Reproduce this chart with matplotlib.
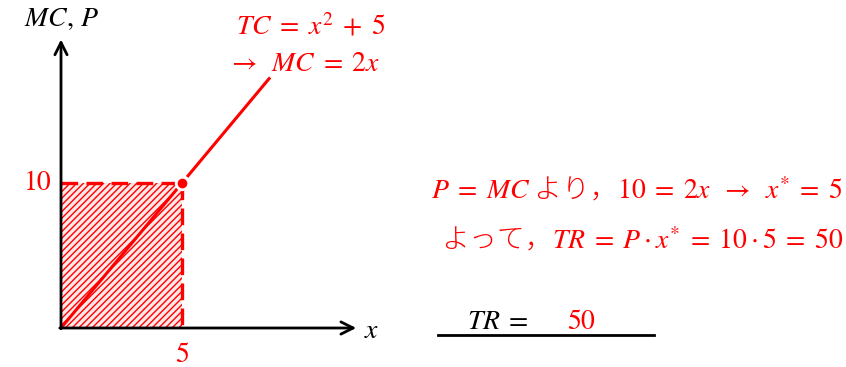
import matplotlib
matplotlib.use('Agg')
import matplotlib.pyplot as plt  # noqa: E402
from matplotlib.patches import Rectangle  # noqa: E402

plt.rcParams['font.family'] = ['Noto Sans CJK JP', 'DejaVu Sans']
plt.rcParams['mathtext.fontset'] = 'stix'
plt.rcParams['hatch.linewidth'] = 1.0

# Datos del gráfico
x_star = 5
price = 10
mc_x = [0, x_star]
mc_y = [0, price]
mc_ext_x = [5.25, 8.6]
mc_ext_y = [10.5, 17.2]
x_axis_end = 12.2
y_axis_end = 19.9
x_ticks = [5]
y_ticks = [10]

RED = '#ff0000'

fig = plt.figure(figsize=(8.46, 3.67), dpi=100)
ax = fig.add_axes([0, 0, 1, 1])
ax.set_xlim(-61 / 24.2, (846 - 61) / 24.2)
ax.set_ylim(-(367 - 328) / 14.5, 328 / 14.5)
ax.axis('off')

# Área TR sombreada
ax.add_patch(Rectangle((0, 0), x_star, price, facecolor='#ffe8e8',
                       edgecolor=RED, hatch='/////', linewidth=0, zorder=1))

# Líneas punteadas
ax.plot([0, x_star], [price, price], color=RED, lw=2.4, ls=(0, (5, 2.5)), zorder=3)
ax.plot([x_star, x_star], [price, 0], color=RED, lw=2.4, ls=(0, (5, 2.5)), zorder=3)

# Curva MC
ax.plot(mc_x, mc_y, color=RED, lw=2.2, zorder=4)
ax.plot(mc_ext_x, mc_ext_y, color=RED, lw=2.2, zorder=4)
ax.plot([x_star], [price], 'o', color=RED, ms=9, mec='white', mew=2, zorder=5)

# Ejes
ax.annotate('', xy=(x_axis_end, 0), xytext=(-0.05, 0),
            arrowprops=dict(arrowstyle='->', lw=2, color='black',
                            mutation_scale=22, shrinkA=0, shrinkB=0), zorder=6)
ax.annotate('', xy=(0, y_axis_end), xytext=(0, -0.05),
            arrowprops=dict(arrowstyle='->', lw=2, color='black',
                            mutation_scale=22, shrinkA=0, shrinkB=0), zorder=6)

fs = 20
ax.text(0.04, 21.4, r'$MC,\,P$', ha='center', va='center', fontsize=fs)
ax.text(12.85, -0.14, r'$x$', ha='center', va='center', fontsize=fs)
for t in y_ticks:
    ax.text(-0.37, t, f'{t}', ha='right', va='center', fontsize=fs,
            color=RED, family='STIXGeneral')
for t in x_ticks:
    ax.text(t, -1.86, f'{t}', ha='center', va='center', fontsize=fs,
            color=RED, family='STIXGeneral')

ax.text(13.39, 20.76, r'$TC\;=\;x^2\;+\;5$', ha='right', va='center',
        fontsize=fs, color=RED)
ax.text(13.18, 18.28, r'$\rightarrow\;\;MC\;=\;2x$', ha='right', va='center',
        fontsize=fs, color=RED)

# Texto explicativo
fig.text(0.9965, 0.482,
         r'$P\;=\;MC$ より，$10\;=\;2x\;\;\rightarrow\;\;x^{*}\;=\;5$',
         ha='right', va='center', fontsize=fs, color=RED, fontweight='light')
fig.text(0.9965, 0.346,
         r'よって，$TR\;=\;P\cdot x^{*}\;=\;10\cdot 5\;=\;50$',
         ha='right', va='center', fontsize=fs, color=RED, fontweight='light')
fig.text(0.552, 0.125, r'$TR\;=$', ha='left', va='center', fontsize=fs, color='black')
fig.text(0.670, 0.125, r'$50$', ha='left', va='center', fontsize=fs, color=RED)
fig.add_artist(plt.Line2D([438 / 846, 654 / 846], [1 - 335 / 367, 1 - 335 / 367],
                          color='black', lw=2))

fig.savefig('out.png', dpi=100)
